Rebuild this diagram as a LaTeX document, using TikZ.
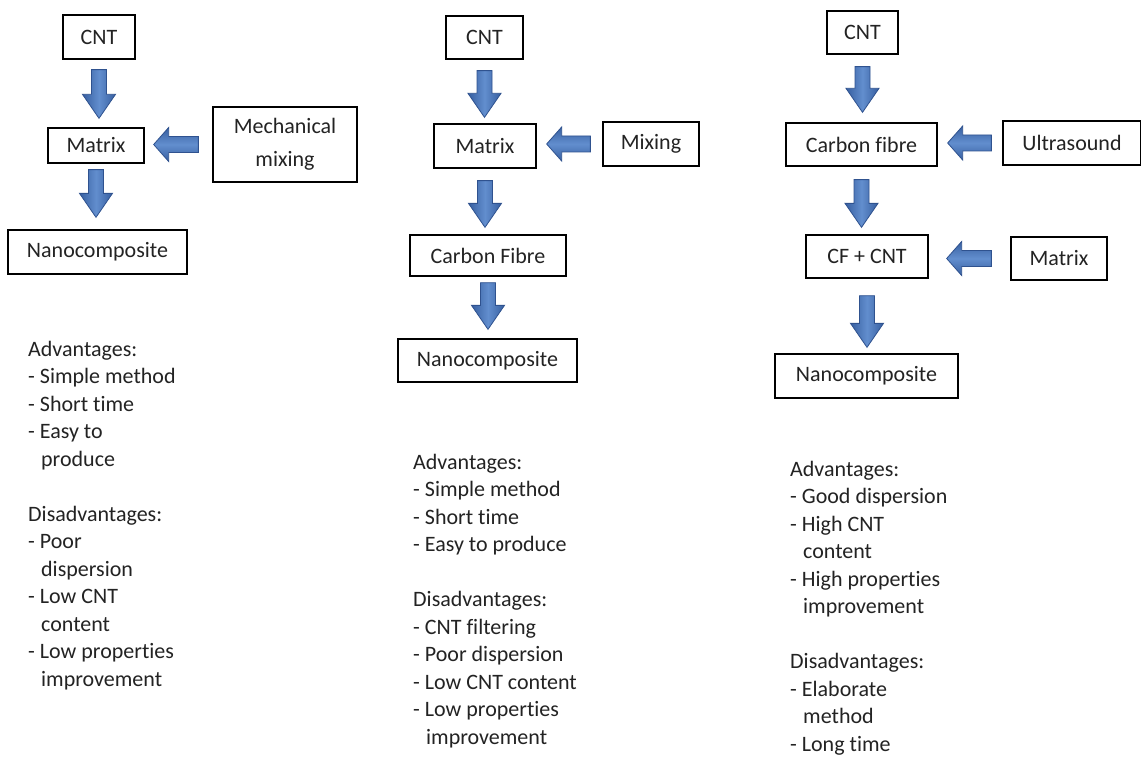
\documentclass[tikz,border=0pt]{standalone}
\usepackage{fontspec}
\setmainfont{Carlito}[Ligatures=NoCommon]
\usetikzlibrary{calc}
\definecolor{arrowfill}{RGB}{72,118,186}
\definecolor{arrowlight}{RGB}{98,142,206}
\definecolor{arrowdark}{RGB}{55,95,160}
\definecolor{arrowline}{RGB}{47,82,143}
\definecolor{txt}{RGB}{35,35,35}
\tikzset{
  box/.style={draw=black, line width=1.3pt, inner sep=0pt, align=center, text=txt,
    font=\fontsize{22}{26}\selectfont},
  blk/.style={draw=arrowline, line width=0.8pt, line join=miter},
  vblk/.style={blk, left color=arrowdark, right color=arrowdark, middle color=arrowlight},
  hblk/.style={blk, top color=arrowdark, bottom color=arrowdark, middle color=arrowlight},
  downblock/.style={vblk, to path={let \p1=(\tikztostart), \p2=(\tikztotarget) in
    (\x1-7.5pt,\y1) -- (\x1+7.5pt,\y1) -- (\x1+7.5pt,\y2+24pt) -- (\x1+16.5pt,\y2+24pt)
    -- (\x1,\y2) -- (\x1-16.5pt,\y2+24pt) -- (\x1-7.5pt,\y2+24pt) -- cycle}},
  leftblock/.style={hblk, to path={let \p1=(\tikztostart), \p2=(\tikztotarget) in
    (\x1,\y1+8pt) -- (\x1,\y1-8pt) -- (\x2+15pt,\y1-8pt) -- (\x2+15pt,\y1-17pt)
    -- (\x2,\y1) -- (\x2+15pt,\y1+17pt) -- (\x2+15pt,\y1+8pt) -- cycle}},
  notes/.style={align=left, anchor=north west, inner sep=0pt, text=txt,
    font=\fontsize{22}{27.5}\selectfont}
}
\newcommand{\ind}{\hspace*{13pt}}
\begin{document}
\begin{tikzpicture}[x=1pt,y=-1pt]
\fill[white] (0,0) rectangle (1141,757);
\useasboundingbox (0,0) rectangle (1141,757);

% ---------- left column ----------
\node[box, minimum width=72pt, minimum height=44pt] (cnt1) at (99,37) {CNT};
\node[box, minimum width=96pt, minimum height=35pt] (mat1) at (96,145.5) {Matrix};
\node[box, minimum width=144pt, minimum height=75pt, font=\fontsize{22}{33}\selectfont] (mech) at (285,144.5) {Mechanical\\mixing};
\node[box, minimum width=179pt, minimum height=44pt] (nano1) at (97.5,252) {Nanocomposite};
\draw[downblock] ([yshift=-10pt]cnt1.south) to ([yshift=9pt]mat1.north);
\draw[downblock] ([yshift=-6pt]mat1.south) to ([yshift=12pt]nano1.north);
\draw[leftblock] ([xshift=-14pt]mech.west) to ([xshift=9pt]mat1.east);

\node[notes] (txt1) at (28,341) {Advantages:\\
- Simple method\\
- Short time\\
- Easy to\\
\ind produce\\[27.5pt]
Disadvantages:\\
- Poor\\
\ind dispersion\\
- Low CNT\\
\ind content\\
- Low properties\\
\ind improvement};

% ---------- middle column ----------
\node[box, minimum width=77pt, minimum height=43pt] (cnt2) at (484.5,37.5) {CNT};
\node[box, minimum width=102pt, minimum height=44pt] (mat2) at (485,146) {Matrix};
\node[box, minimum width=96pt, minimum height=44pt] (mix) at (651,144) {Mixing};
\node[box, minimum width=156pt, minimum height=41pt] (cf2) at (488,255.5) {Carbon Fibre};
\node[box, minimum width=179pt, minimum height=43pt] (nano2) at (487.5,360.5) {Nanocomposite};
\draw[downblock] ([yshift=-11pt]cnt2.south) to ([yshift=6pt]mat2.north);
\draw[leftblock] ([xshift=-12pt]mix.west) to ([xshift=10pt]mat2.east);
\draw[downblock] ([yshift=-12pt]mat2.south) to ([yshift=7pt]cf2.north);
\draw[downblock] ([yshift=-6pt]cf2.south) to ([yshift=9pt]nano2.north);

\node[notes] (txt2) at (413,454) {Advantages:\\
- Simple method\\
- Short time\\
- Easy to produce\\[27.5pt]
Disadvantages:\\
- CNT filtering\\
- Poor dispersion\\
- Low CNT content\\
- Low properties\\
\ind improvement};

% ---------- right column ----------
\node[box, minimum width=71pt, minimum height=43pt] (cnt3) at (862.5,32.5) {CNT};
\node[box, minimum width=151pt, minimum height=43pt] (cf3) at (861.5,144.5) {Carbon fibre};
\node[box, minimum width=138pt, minimum height=44pt] (ultra) at (1072,143) {Ultrasound};
\node[box, minimum width=122pt, minimum height=43pt] (cfcnt) at (867,256.5) {CF + CNT};
\node[box, minimum width=96pt, minimum height=43pt] (mat3) at (1059,258.5) {Matrix};
\node[box, minimum width=183pt, minimum height=44pt] (nano3) at (866.5,376) {Nanocomposite};
\draw[downblock] ([yshift=-12pt]cnt3.south) to ([yshift=10pt]cf3.north);
\draw[leftblock] ([xshift=-11pt]ultra.west) to ([xshift=10pt]cf3.east);
\draw[downblock] ([yshift=-13pt]cf3.south) to ([yshift=7pt]cfcnt.north);
\draw[leftblock] ([xshift=-19pt]mat3.west) to ([xshift=18pt]cfcnt.east);
\draw[downblock] ([yshift=-17pt]cfcnt.south) to ([yshift=6pt]nano3.north);

\node[notes] (txt3) at (790,461) {Advantages:\\
- Good dispersion\\
- High CNT\\
\ind content\\
- High properties\\
\ind improvement\\[27.5pt]
Disadvantages:\\
- Elaborate\\
\ind method\\
- Long time};
\end{tikzpicture}
\end{document}
